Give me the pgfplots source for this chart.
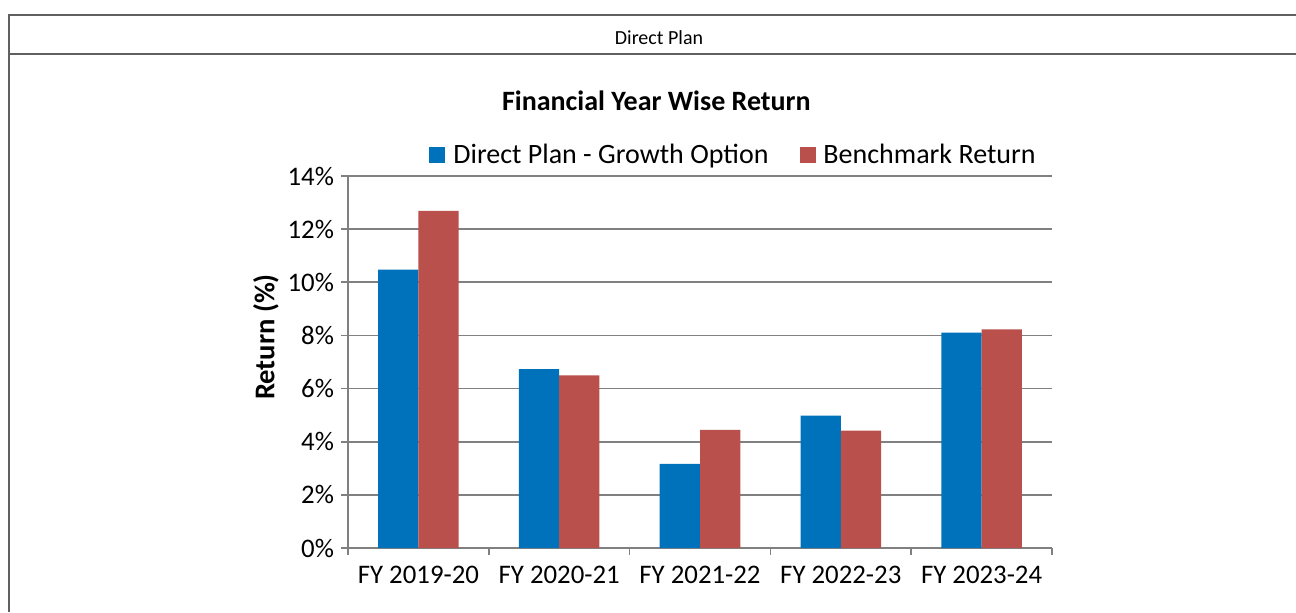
\documentclass[border=0pt]{standalone}
\usepackage{fontspec}
\setmainfont{Carlito}
\usepackage{pgfplots}
\pgfplotsset{compat=1.18}
\definecolor{dpblue}{RGB}{0,114,188}
\definecolor{bmred}{RGB}{186,80,76}
\definecolor{gridgray}{RGB}{128,128,128}
\definecolor{framegray}{RGB}{96,96,96}
\begin{document}
\begin{tikzpicture}
\useasboundingbox (0,0) rectangle (648pt,306pt);
\draw[framegray, line width=1pt] (4.25pt,0pt) -- (4.25pt,298.5pt) -- (648pt,298.5pt);
\draw[framegray, line width=1pt] (4.25pt,278.75pt) -- (648pt,278.75pt);
\node[font=\fontsize{10}{12}\selectfont] at (329.5pt,287pt) {Direct Plan};
\begin{axis}[
  at={(174pt,32pt)}, anchor=south west,
  scale only axis, width=352pt, height=186pt,
  ymin=0, ymax=14, xmin=-0.5, xmax=4.5,
  ybar=0pt, bar width=0.286,
  axis lines=left, axis line style={-, gridgray, line width=0.85pt},
  ytick={0,2,...,14}, yticklabels={0\%,2\%,4\%,6\%,8\%,10\%,12\%,14\%},
  xtick={-0.5,0.5,1.5,2.5,3.5,4.5}, xticklabels={},
  extra x ticks={0,1,2,3,4},
  extra x tick labels={FY 2019-20,FY 2020-21,FY 2021-22,FY 2022-23,FY 2023-24},
  extra x tick style={major tick length=0pt, grid=none},
  tick align=outside, major tick length=3.5pt,
  tick style={gridgray, line width=0.85pt},
  ymajorgrids, grid style={gridgray, line width=0.85pt},
  ticklabel style={font=\fontsize{13.4}{15}\selectfont},
  /pgf/number format/assume math mode=true,
  xticklabel style={yshift=-5.5pt},
  title={Financial Year Wise Return},
  title style={font=\bfseries\fontsize{14}{16}\selectfont, at={(rel axis cs:0.438,1.145)}, anchor=base},
  ylabel={Return (\%)},
  every axis y label/.style={at={(rel axis cs:-0.1165,0.567)}, rotate=90, anchor=center, font=\bfseries\fontsize{14.3}{16}\selectfont},
  legend style={at={(rel axis cs:0.549,1.056)}, anchor=center, draw=none, fill=none, legend columns=2,
    font=\fontsize{14}{16}\selectfont,
    /tikz/every even column/.append style={column sep=13.5pt}},
  legend image code/.code={\fill[#1] (0pt,-4pt) rectangle (8pt,4pt); \path (10pt,0pt);},
]
\addplot[fill=dpblue, draw=none] coordinates {(0,10.48) (1,6.73) (2,3.17) (3,4.98) (4,8.11)};
\addplot[fill=bmred, draw=none] coordinates {(0,12.69) (1,6.50) (2,4.45) (3,4.42) (4,8.23)};
\legend{Direct Plan - Growth Option, Benchmark Return}
\end{axis}
\end{tikzpicture}
\end{document}
